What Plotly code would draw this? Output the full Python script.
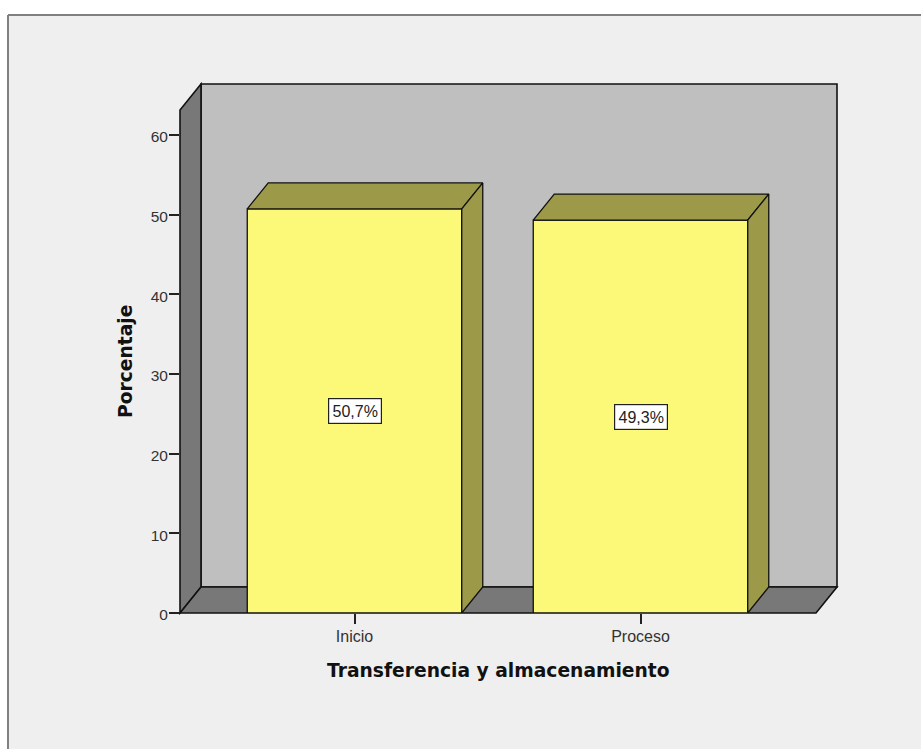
import plotly.graph_objects as go

categories = ["Inicio", "Proceso"]
values = [50.7, 49.3]
y_ticks = [0, 10, 20, 30, 40, 50, 60]
x_title = "Transferencia y almacenamiento"
y_title = "Porcentaje"

W, H = 921, 749
L, R, T, B = 180, 837, 84, 613
PX_Y = 7.97
PX_X = 286.0
X0_PX = 354.5
DX = 21 / PX_X
DY = 26 / PX_Y
BAR_W = 0.75
xr = [(L - X0_PX) / PX_X, (R - X0_PX) / PX_X]
yr = [0, (B - T) / PX_Y]
xpos = list(range(len(categories)))

LINE = "#111111"
def px(x): return (x - L) / (R - L)
def py(y): return (B - y) / (B - T)
def poly(pts):
    return "M" + " L".join(f"{px(a)} {py(b)}" for a, b in pts) + " Z"

fig = go.Figure()

# front faces
fig.add_trace(go.Bar(x=xpos, y=values, width=BAR_W, cliponaxis=False,
                     marker=dict(color="#fcf878", line=dict(color=LINE, width=1.3)),
                     hoverinfo="skip", showlegend=False))
# top and side faces
for x, v in zip(xpos, values):
    l, r = x - BAR_W / 2, x + BAR_W / 2
    fig.add_trace(go.Scatter(x=[l, l + DX, r + DX, r, l], y=[v, v + DY, v + DY, v, v], mode="lines", fill="toself",
                             fillcolor="#9c9a48", line=dict(color=LINE, width=1.3), hoverinfo="skip", showlegend=False))
    fig.add_trace(go.Scatter(x=[r, r + DX, r + DX, r, r], y=[0, DY, v + DY, v, 0], mode="lines", fill="toself",
                             fillcolor="#9c9a48", line=dict(color=LINE, width=1.3), hoverinfo="skip", showlegend=False))

wall = dict(line=dict(color=LINE, width=1.6), layer="below", xref="paper", yref="paper")
shapes = [
    # outer window strips and frame
    dict(type="rect", xref="paper", yref="paper", x0=px(0), x1=px(W), y0=py(0), y1=py(15), fillcolor="white", line_width=0, layer="below"),
    dict(type="rect", xref="paper", yref="paper", x0=px(0), x1=px(8), y0=py(0), y1=py(H), fillcolor="white", line_width=0, layer="below"),
    dict(type="line", xref="paper", yref="paper", x0=px(8), x1=px(W), y0=py(15), y1=py(15), line=dict(color="#808080", width=2), layer="below"),
    dict(type="line", xref="paper", yref="paper", x0=px(8), x1=px(8), y0=py(15), y1=py(H), line=dict(color="#808080", width=2), layer="below"),
    # back wall
    dict(type="path", path=poly([(201, 587), (R, 587), (R, T), (201, T)]), fillcolor="#bfbfbf", **wall),
    # left wall
    dict(type="path", path=poly([(L, B), (201, 587), (201, T), (L, 110)]), fillcolor="#787878", **wall),
    # floor
    dict(type="path", path=poly([(L, B), (201, 587), (R, 587), (816, B)]), fillcolor="#787878", **wall),
]

annotations = [
    dict(x=x, y=v / 2, xref="x", yref="y", text=f"{v:.1f}%".replace(".", ","), showarrow=False,
         font=dict(family="Liberation Sans", size=16, color="#222222"), bgcolor="white",
         bordercolor="#222222", borderwidth=1.2, width=52, height=24, borderpad=0)
    for x, v in zip(xpos, values)
]
annotations += [
    dict(x=px(498), y=py(670), xref="paper", yref="paper", xanchor="center", yanchor="middle",
         text=f"<b>{x_title}</b>", showarrow=False,
         font=dict(family="DejaVu Sans", size=18.7, color="#111111")),
    dict(x=px(125), y=py(362), xref="paper", yref="paper", xanchor="center", yanchor="middle",
         text=f"<b>{y_title}</b>", showarrow=False, textangle=-90,
         font=dict(family="DejaVu Sans", size=18.7, color="#111111")),
]

fig.update_layout(
    width=W, height=H, margin=dict(l=L, r=W - R, t=T, b=H - B, pad=0), autosize=False,
    paper_bgcolor="#efefef", plot_bgcolor="rgba(0,0,0,0)", showlegend=False,
    shapes=shapes, annotations=annotations, hovermode=False,
    font=dict(family="Liberation Sans", size=15, color="#333333"),
    xaxis=dict(range=xr, tickmode="array", tickvals=xpos, ticktext=categories, ticks="outside", ticklen=10,
               tickcolor="#222222", tickwidth=1.5, showgrid=False, zeroline=False, showline=False, fixedrange=True,
               ticklabelstandoff=-1, tickfont=dict(family="Liberation Sans", size=16, color="#333333")),
    yaxis=dict(range=yr, tickmode="array", tickvals=y_ticks, ticks="outside", ticklen=10,
               tickcolor="#222222", tickwidth=1.5, showgrid=False, zeroline=False, showline=False, fixedrange=True,
               ticklabelstandoff=-2, ticklabelshift=2, tickfont=dict(family="Liberation Sans", size=15.5, color="#333333")),
)

fig.write_html("out.html", config=dict(displayModeBar=False),
               post_script="document.body.style.margin='0';document.body.style.overflow='hidden';")
